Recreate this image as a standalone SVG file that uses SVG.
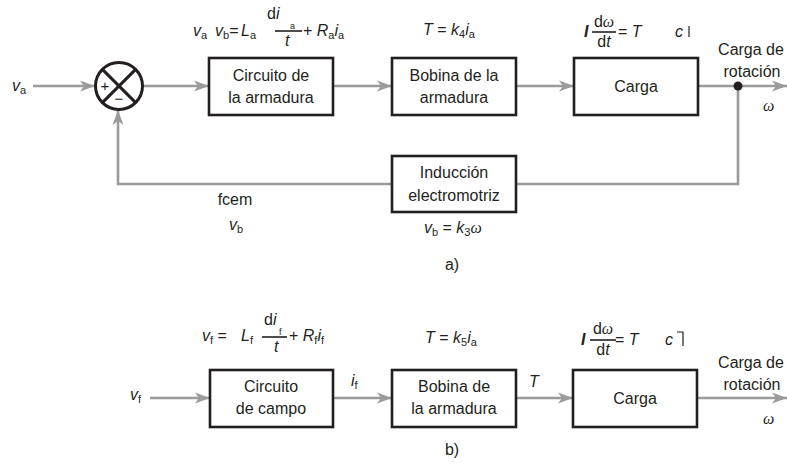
<svg xmlns="http://www.w3.org/2000/svg" width="787" height="471" viewBox="0 0 787 471">
<defs>
<style>
.t{font-family:"Liberation Sans",Arial,sans-serif;font-size:16px;fill:#231f20}
.c{text-anchor:middle}
.i{font-style:italic}
.s{font-size:11px}
.w{font-family:"Liberation Serif","Times New Roman",serif;font-style:italic}
.box{fill:#fff;stroke:#231f20;stroke-width:2.6}
.ln{fill:none;stroke:#9b9b9b;stroke-width:2.6}
.arr{marker-end:url(#ah)}
.fr{stroke:#231f20;stroke-width:1.6}
</style>
<marker id="ah" markerUnits="userSpaceOnUse" markerWidth="16" markerHeight="12" refX="15" refY="6" orient="auto">
<path d="M0,0.5 L15,6 L0,11.5 L4,6 z" fill="#9b9b9b"/>
</marker>
</defs>

<g id="connectors">
<line class="ln arr" x1="33" y1="86" x2="95" y2="86"/>
<line class="ln arr" x1="143" y1="86" x2="209" y2="86"/>
<line class="ln arr" x1="333" y1="86" x2="392" y2="86"/>
<line class="ln arr" x1="516" y1="86" x2="574" y2="86"/>
<line class="ln arr" x1="698" y1="86" x2="787" y2="86"/>
<polyline class="ln" points="738,86 738,184 516,184"/>
<polyline class="ln arr" points="392,184 118,184 118,110"/>
<circle cx="738" cy="86" r="4.5" fill="#231f20"/>
<line class="ln arr" x1="150" y1="398" x2="210" y2="398"/>
<line class="ln arr" x1="333" y1="398" x2="392" y2="398"/>
<line class="ln arr" x1="516" y1="398" x2="573" y2="398"/>
<line class="ln arr" x1="697" y1="398" x2="787" y2="398"/>
</g>

<g id="sum">
<circle cx="119" cy="86" r="23.5" fill="#fff" stroke="#231f20" stroke-width="3"/>
<line x1="102.4" y1="69.4" x2="135.6" y2="102.6" stroke="#231f20" stroke-width="3"/>
<line x1="135.6" y1="69.4" x2="102.4" y2="102.6" stroke="#231f20" stroke-width="3"/>
<text class="t c" x="105" y="91" style="font-size:15px">+</text>
<text class="t c" x="119" y="104" style="font-size:15px">−</text>
</g>

<g id="circuito-armadura">
<rect class="box" x="209" y="58" width="124" height="57"/>
<text class="t c" x="271" y="81">Circuito de</text>
<text class="t c" x="271" y="103">la armadura</text>
</g>
<g id="bobina-a">
<rect class="box" x="392" y="58" width="124" height="57"/>
<text class="t c" x="454" y="81">Bobina de la</text>
<text class="t c" x="454" y="103">armadura</text>
</g>
<g id="carga-a">
<rect class="box" x="574" y="58" width="124" height="57"/>
<text class="t c" x="636" y="92">Carga</text>
</g>
<g id="induccion">
<rect class="box" x="392" y="156" width="124" height="56"/>
<text class="t c" x="454" y="178">Inducción</text>
<text class="t c" x="454" y="201">electromotriz</text>
</g>

<g id="circuito-campo">
<rect class="box" x="210" y="370" width="123" height="57"/>
<text class="t c" x="271" y="392">Circuito</text>
<text class="t c" x="271" y="414">de campo</text>
</g>
<g id="bobina-b">
<rect class="box" x="392" y="370" width="124" height="57"/>
<text class="t c" x="454" y="392">Bobina de</text>
<text class="t c" x="454" y="414">la armadura</text>
</g>
<g id="carga-b">
<rect class="box" x="573" y="370" width="124" height="57"/>
<text class="t c" x="635" y="404">Carga</text>
</g>

<g id="labels-a">
<text class="t" x="12" y="91"><tspan class="i">v</tspan><tspan class="s" dy="3">a</tspan></text>
<text class="t c" x="751" y="55">Carga de</text>
<text class="t c" x="752" y="77">rotación</text>
<text class="t w" x="763" y="111">ω</text>
<text class="t c" x="235" y="205">fcem</text>
<text class="t" x="229" y="230"><tspan class="i">v</tspan><tspan class="s" dy="3">b</tspan></text>
<text class="t" x="424" y="233"><tspan class="i">v</tspan><tspan class="s" dy="3">b</tspan><tspan dy="-3"> = </tspan><tspan class="i">k</tspan><tspan class="s" dy="3">3</tspan><tspan class="w" dy="-3">ω</tspan></text>
<text class="t c" x="452" y="270">a)</text>
<text class="t" x="193" y="36"><tspan class="i">v</tspan><tspan class="s" dy="3">a</tspan></text>
<text class="t" x="215" y="36"><tspan class="i">v</tspan><tspan class="s" dy="3">b</tspan><tspan dy="-3">=</tspan></text>
<text class="t" x="241" y="36"><tspan class="i">L</tspan><tspan class="s" dy="3">a</tspan></text>
<text class="t" x="267" y="19">d<tspan class="i">i</tspan></text>
<line class="fr" x1="275" y1="31" x2="302" y2="31"/>
<text class="t" x="290" y="29" style="font-size:9px">a</text>
<text class="t i" x="285" y="46">t</text>
<text class="t" x="303" y="36">+ <tspan class="i">R</tspan><tspan class="s" dy="3">a</tspan><tspan class="i" dy="-3">i</tspan><tspan class="s" dy="3">a</tspan></text>
<text class="t" x="423" y="35"><tspan class="i">T</tspan> = <tspan class="i">k</tspan><tspan class="s" dy="3">4</tspan><tspan class="i" dy="-3">i</tspan><tspan class="s" dy="3">a</tspan></text>
<text class="t i" x="584" y="37" font-weight="bold">I</text>
<text class="t c" x="604" y="27">d<tspan class="w">ω</tspan></text>
<line class="fr" x1="592" y1="32" x2="616" y2="32"/>
<text class="t c" x="604" y="47">d<tspan class="i">t</tspan></text>
<text class="t" x="618" y="37">= <tspan class="i">T</tspan></text>
<text class="t i" x="675" y="37">c</text>
<line x1="689" y1="26" x2="689" y2="37" stroke="#231f20" stroke-width="1.2"/>
</g>

<g id="labels-b">
<text class="t" x="130" y="400"><tspan class="i">v</tspan><tspan class="s" dy="3">f</tspan></text>
<text class="t" x="351" y="386"><tspan class="i">i</tspan><tspan class="s" dy="3">f</tspan></text>
<text class="t i" x="529" y="387">T</text>
<text class="t c" x="751" y="368">Carga de</text>
<text class="t c" x="752" y="390">rotación</text>
<text class="t w" x="763" y="424">ω</text>
<text class="t c" x="452" y="455">b)</text>
<text class="t" x="202" y="341"><tspan class="i">v</tspan><tspan class="s" dy="3">f</tspan><tspan dy="-3"> =</tspan></text>
<text class="t" x="241" y="341"><tspan class="i">L</tspan><tspan class="s" dy="3">f</tspan></text>
<text class="t" x="264" y="325">d<tspan class="i">i</tspan></text>
<line class="fr" x1="262" y1="337" x2="287" y2="337"/>
<text class="t" x="279" y="335" style="font-size:9px">f</text>
<text class="t i" x="274" y="352">t</text>
<text class="t" x="289" y="341">+ <tspan class="i">R</tspan><tspan class="s" dy="3">f</tspan><tspan class="i" dy="-3">i</tspan><tspan class="s" dy="3">f</tspan></text>
<text class="t" x="425" y="343"><tspan class="i">T</tspan> = <tspan class="i">k</tspan><tspan class="s" dy="3">5</tspan><tspan class="i" dy="-3">i</tspan><tspan class="s" dy="3">a</tspan></text>
<text class="t i" x="581" y="345" font-weight="bold">I</text>
<text class="t c" x="603" y="334">d<tspan class="w">ω</tspan></text>
<line class="fr" x1="590" y1="340" x2="616" y2="340"/>
<text class="t c" x="603" y="355">d<tspan class="i">t</tspan></text>
<text class="t" x="615" y="345">= <tspan class="i">T</tspan></text>
<text class="t i" x="665" y="345">c</text>
<polyline points="677,332 683,332 683,346" fill="none" stroke="#231f20" stroke-width="1.2"/>
</g>
</svg>
